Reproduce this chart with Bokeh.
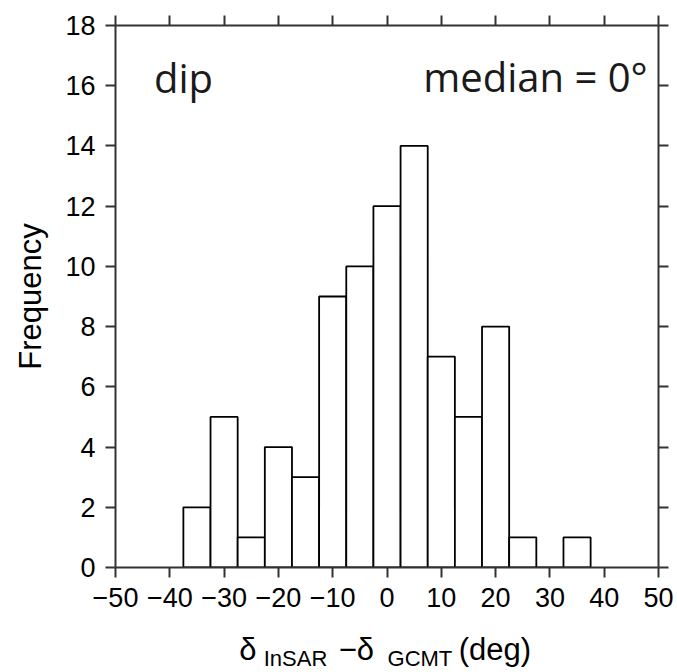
from bokeh.plotting import figure
from bokeh.models import Range1d, LinearAxis, FixedTicker, Label, ColumnDataSource
from bokeh.layouts import column
from bokeh.embed import file_html
from bokeh.resources import INLINE

# ---- data ----
bin_centers = [-35, -30, -25, -20, -15, -10, -5, 0, 5, 10, 15, 20, 25, 30, 35]
counts = [2, 5, 1, 4, 3, 9, 10, 12, 14, 7, 5, 8, 1, 0, 1]
bin_width = 5
x_ticks = [-50, -40, -30, -20, -10, 0, 10, 20, 30, 40, 50]
x_tick_labels = ["\u221250", "\u221240", "\u221230", "\u221220", "\u221210",
                 "0", "10", "20", "30", "40", "50"]
y_ticks = [0, 2, 4, 6, 8, 10, 12, 14, 16, 18]
y_label = "Frequency"
panel_label = "dip"
median_label = "median = 0\u00b0"

AX_FONT = "Liberation Sans"
TXT_FONT = "Open Sans"
AX_COLOR = "#333333"

p = figure(width=677, height=620,
           x_range=Range1d(-50, 50), y_range=Range1d(0, 18),
           output_backend="svg", toolbar_location=None,
           min_border_left=115, min_border_right=19,
           min_border_top=25, min_border_bottom=53)
p.grid.visible = False
p.outline_line_color = None
p.background_fill_color = "white"
p.border_fill_color = "white"

src = ColumnDataSource(dict(x=bin_centers, top=counts))
p.vbar(x="x", top="top", bottom=0, width=bin_width, source=src,
       fill_color="white", line_color="black", line_width=1.8)


def style_axis(ax, show_labels, ticks):
    ax.axis_line_color = AX_COLOR
    ax.axis_line_width = 2
    ax.major_tick_line_color = AX_COLOR
    ax.major_tick_line_width = 2
    ax.major_tick_in = 0
    ax.major_tick_out = 10
    ax.minor_tick_line_color = None
    ax.major_label_text_font = AX_FONT
    ax.major_label_text_color = "black"
    if show_labels:
        ax.major_label_text_font_size = "27px"
        ax.major_label_standoff = 10
    else:
        ax.major_label_overrides = {t: "" for t in ticks}
        ax.major_label_text_font_size = "1px"
        ax.major_label_standoff = 0


xax = p.xaxis[0]
xax.ticker = FixedTicker(ticks=x_ticks)
style_axis(xax, True, x_ticks)
xax.major_label_overrides = {t: l for t, l in zip(x_ticks, x_tick_labels)}

yax = p.yaxis[0]
yax.ticker = FixedTicker(ticks=y_ticks)
style_axis(yax, True, y_ticks)
yax.axis_label = y_label
yax.axis_label_text_font = AX_FONT
yax.axis_label_text_font_size = "31px"
yax.axis_label_text_font_style = "normal"
yax.axis_label_text_color = "black"
yax.axis_label_standoff = 14

top_ax = LinearAxis(ticker=FixedTicker(ticks=x_ticks))
style_axis(top_ax, False, x_ticks)
p.add_layout(top_ax, "above")

right_ax = LinearAxis(ticker=FixedTicker(ticks=y_ticks))
style_axis(right_ax, False, y_ticks)
p.add_layout(right_ax, "right")

# panel texts
p.add_layout(Label(x=-42.9, y=16.26, text=panel_label, text_font=TXT_FONT,
                   text_font_size="40px", text_color="#1a1a1a",
                   text_align="left", text_baseline="alphabetic"))
p.add_layout(Label(x=48.0, y=16.32, text=median_label, text_font=TXT_FONT,
                   text_font_size="40px", text_color="#1a1a1a",
                   text_align="right", text_baseline="alphabetic"))

# ---- x-axis label strip (with subscripts) ----
q = figure(width=677, height=52,
           x_range=p.x_range, y_range=Range1d(52, 0),
           output_backend="svg", toolbar_location=None,
           min_border_left=115, min_border_right=19,
           min_border_top=0, min_border_bottom=0)
q.axis.visible = False
q.grid.visible = False
q.outline_line_color = None
q.background_fill_color = "white"
q.border_fill_color = "white"

xlab_parts = [
    ("\u03b4", -27.2, 29.3, "31px"),
    ("InSAR", -22.7, 38.4, "22px"),
    ("\u2212\u03b4", -8.9, 29.3, "31px"),
    ("GCMT", 0.1, 38.4, "22px"),
    ("(deg)", 13.2, 29.3, "31px"),
]
for txt, xx, yy, fs in xlab_parts:
    q.add_layout(Label(x=xx, y=yy, text=txt, text_font=AX_FONT,
                       text_font_size=fs, text_color="black",
                       text_align="left", text_baseline="alphabetic"))

layout = column(p, q, spacing=0)
open("out.html", "w").write(file_html(layout, INLINE))
